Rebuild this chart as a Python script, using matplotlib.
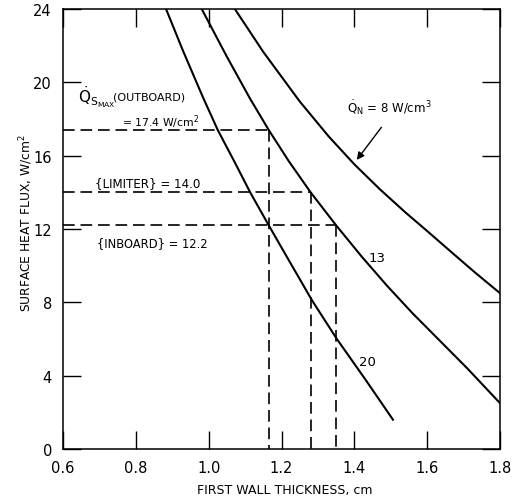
import matplotlib
matplotlib.use("Agg")
import matplotlib.pyplot as plt

plt.rcParams['font.family'] = ['DejaVu Sans']
plt.rcParams['mathtext.fontset'] = 'dejavusans'

# curves: first wall thickness (cm) vs surface heat flux (W/cm^2)
x_q8 = [1.072, 1.15, 1.25, 1.33, 1.40, 1.47, 1.54, 1.60, 1.663, 1.73, 1.8]
y_q8 = [24.0, 21.66, 18.96, 17.04, 15.53, 14.17, 12.91, 11.89, 10.8, 9.65, 8.5]

x_q13 = [0.981, 1.05, 1.114, 1.165, 1.22, 1.28, 1.35, 1.42, 1.49, 1.56, 1.63, 1.71, 1.8]
y_q13 = [24.0, 21.4, 19.1, 17.4, 15.7, 14.0, 12.2, 10.5, 8.9, 7.4, 6.0, 4.4, 2.5]

x_q20 = [0.883, 0.93, 0.984, 1.025, 1.07, 1.114, 1.165, 1.22, 1.284, 1.352, 1.43, 1.506]
y_q20 = [24.0, 21.7, 19.2, 17.4, 15.7, 14.0, 12.2, 10.3, 8.1, 6.0, 3.8, 1.6]

# design limits (dashed)
limit_flux = [17.4, 14.0, 12.2]
limit_thick = [1.165, 1.28, 1.35]

xticks = [0.6, 0.8, 1.0, 1.2, 1.4, 1.6, 1.8]
yticks = [0, 4, 8, 12, 16, 20, 24]

fig = plt.figure(figsize=(5.18, 5.02), dpi=100)
ax = fig.add_axes([0.1216, 0.1036, 0.8437, 0.8764])

for xs, ys in [(x_q8, y_q8), (x_q13, y_q13), (x_q20, y_q20)]:
    ax.plot(xs, ys, color='black', lw=1.5)

for f, t in zip(limit_flux, limit_thick):
    ax.plot([0.6, t], [f, f], color='black', lw=1.2, dashes=(7, 3.5))
    ax.plot([t, t], [f, 0], color='black', lw=1.2, dashes=(7, 3.5))

ax.set_xlim(0.6, 1.8)
ax.set_ylim(0, 24)
ax.set_xticks(xticks)
ax.set_xticklabels(['0.6', '0.8', '1.0', '1.2', '1.4', '1.6', '1.8'])
ax.set_yticks(yticks)
ax.tick_params(direction='in', length=13, width=1, top=True, right=True,
               labelsize=10.5, pad=8)
for s in ax.spines.values():
    s.set_linewidth(1.1)

ax.set_xlabel('FIRST WALL THICKNESS, cm', fontsize=9)
ax.set_ylabel('SURFACE HEAT FLUX, W/cm$^2$', fontsize=8.8)
ax.xaxis.set_label_coords(0.508, -0.078)
ax.yaxis.set_label_coords(-0.064, 0.516)

ax.text(0.641, 18.9, r'$\dot{\mathrm{Q}}_{\mathrm{S}_{\mathrm{MAX}}}$', fontsize=11)
ax.text(0.738, 19.25, '(OUTBOARD)', fontsize=8, va='center')
ax.text(0.762, 17.9, '= 17.4 W/cm$^2$', fontsize=7.8, va='center')
ax.text(0.688, 14.56, '{LIMITER} = 14.0', fontsize=8.6, va='center')
ax.text(0.693, 11.29, '{INBOARD} = 12.2', fontsize=8.3, va='center')

ax.text(1.38, 18.4, r'$\dot{\mathrm{Q}}_\mathrm{N}$ = 8 W/cm$^3$', fontsize=8.5)
ax.annotate('', xy=(1.402, 15.65), xytext=(1.479, 17.67),
            arrowprops=dict(arrowstyle='-|>', color='black', lw=1, mutation_scale=11))
ax.text(1.462, 10.47, '13', fontsize=9.5, ha='center', va='center')
ax.text(1.437, 4.8, '20', fontsize=9.5, ha='center', va='center')

fig.savefig('out.png', dpi=100)
